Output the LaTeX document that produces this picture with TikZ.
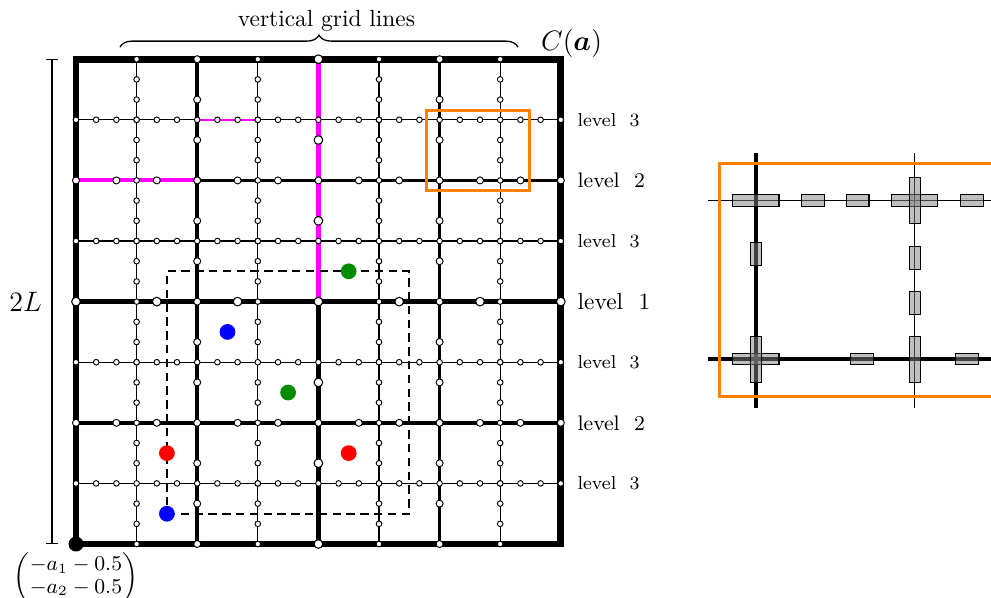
\documentclass[tikz,border=0pt]{standalone}
\usepackage{amsmath, amssymb}
\usepackage{tikz}
\usetikzlibrary{arrows.meta,positioning,decorations.pathreplacing,calc}
\definecolor{magline}{rgb}{1,0,1}
\definecolor{zoomorange}{rgb}{1,0.5,0}

\begin{document}
\begin{tikzpicture}[x=0.91cm, y=0.91cm, node distance=1cm,
        lvlthree/.style={line width=0.45pt},
        lvltwo/.style={line width=1.46pt},
        lvlone/.style={line width=1.82pt},
        border/.style={line width=2.9pt},
        dotthree/.style={draw, fill=white, line width=0.4pt},
        dottwo/.style={draw, fill=white, line width=0.4pt},
        dotone/.style={draw, fill=white, line width=0.45pt},
        patch/.style={dash pattern=on 3.6pt off 2.3pt, line width=0.8pt},
        lvl/.style={anchor=west, inner sep=0pt},
        zoombox/.style={draw=zoomorange, line width=1.27pt},
        supp/.style={draw, fill=gray, fill opacity=0.5, line width=0.45pt, inner sep=0pt},
        hshort/.style={minimum width=9.8pt, minimum height=4.8pt},
        hlong/.style={minimum width=19.7pt, minimum height=4.8pt},
        vshort/.style={minimum width=4.8pt, minimum height=9.8pt},
        vlong/.style={minimum width=4.8pt, minimum height=19.7pt}]
    \useasboundingbox (-1.254,-0.875) rectangle (15.099,8.977);
    \clip (-1.254,-0.875) rectangle (15.099,8.977);

    % grid lines, finest level first
    \foreach \c in {1,3,5,7}
        \draw[lvlthree] (\c,0) -- (\c,8) (0,\c) -- (8,\c);
    \foreach \c in {2,6}
        \draw[lvltwo] (\c,0) -- (\c,8) (0,\c) -- (8,\c);
    \draw[lvlone] (4,0) -- (4,8) (0,4) -- (8,4);

    \draw[magline, line width=1.1pt] (2,7) -- (3,7);
    \draw[magline, line width=1.64pt] (0,6) -- (2,6);
    \draw[magline, line width=2.18pt] (4,8) -- (4,4);

    \draw[border] (0,0) rectangle (8,8);
    \draw[patch] (1.5,0.5) -- (5.5,0.5) -- (5.5,4.5) -- (1.5,4.5) -- cycle;

    % grid points on each level
    \foreach \c in {1,3,5,7}
        \foreach \k in {0,...,24}
            \draw[dotthree] (\c,\k/3) circle (1.2pt) (\k/3,\c) circle (1.2pt);
    \foreach \c in {2,6}
        \foreach \k in {0,...,12}
            \draw[dottwo] (\c,2*\k/3) circle (1.5pt) (2*\k/3,\c) circle (1.5pt);
    \foreach \k in {0,...,6}
        \draw[dotone] (4,4*\k/3) circle (1.85pt) (4*\k/3,4) circle (1.85pt);

    \fill[green!55!black] (4.5,4.5) circle (3.37pt);
    \fill[blue] (2.5,3.5) circle (3.37pt);
    \fill[green!55!black] (3.5,2.5) circle (3.37pt);
    \fill[red] (1.5,1.5) circle (3.37pt);
    \fill[red] (4.5,1.5) circle (3.37pt);
    \fill[blue] (1.5,0.5) circle (3.37pt);

    \coordinate (orig) at (0,0);
    \fill (orig) circle (3.2pt);
    \node[below=0pt of orig, font=\small] (corner) {\renewcommand{\arraystretch}{0.86}$\begin{pmatrix}-a_1-0.5\\-a_2-0.5\end{pmatrix}$};

    \draw[zoombox] (5.79,5.84) rectangle (7.49,7.15);

    \node[lvl, font=\footnotesize] (lvlA) at (8.27,7) {level~ 3};
    \node[lvl, font=\small] (lvlB) at (8.27,6) {level~ 2};
    \node[lvl, font=\footnotesize] (lvlC) at (8.27,5) {level~ 3};
    \node[lvl] (lvlD) at (8.27,4) {level~ 1};
    \node[lvl, font=\footnotesize] (lvlE) at (8.27,3) {level~ 3};
    \node[lvl, font=\small] (lvlF) at (8.27,2) {level~ 2};
    \node[lvl, font=\footnotesize] (lvlG) at (8.27,1) {level~ 3};

    \node[font=\large] (cset) at (8.177,8.267) {$C(\boldsymbol{a})$};

    \coordinate (brl) at (0.726,8.2);
    \coordinate (brr) at (7.294,8.2);
    \draw[line width=0.55pt, decorate, decoration={brace, amplitude=5.1pt}] (brl) -- (brr)
        node[midway, above=3.2pt, xshift=3.2pt] (vgl) {vertical grid lines};

    \coordinate (dimlo) at (-0.396,0);
    \coordinate (dimhi) at (-0.396,8);
    \draw[line width=0.55pt, {Bar[width=5.5pt]}-{Bar[width=5.5pt]}] (dimlo) -- (dimhi)
        node[midway, left=0.7pt, font=\large] (twoL) {$2L$};

    % zoomed part of the grid
    \begin{scope}[shift={(11.22,3.05)}, scale=2.62]
        \draw[lvlthree] (1,-0.31) -- (1,1.3) (-0.3,1) -- (1.6,1);
        \draw[lvltwo] (0,-0.31) -- (0,1.3) (-0.3,0) -- (1.6,0);
        \foreach \x/\y [count=\i] in {0.36/1, 0.64/1, 1.36/1, 0.668/0, 1.332/0}
            \node[supp, hshort] (hs\i) at (\x,\y) {};
        \foreach \x/\y [count=\i] in {0/1, 1/1, 0/0}
            \node[supp, hlong] (hl\i) at (\x,\y) {};
        \foreach \x/\y [count=\i] in {0/0.661, 1/0.355, 1/0.635}
            \node[supp, vshort] (vs\i) at (\x,\y) {};
        \foreach \x/\y [count=\i] in {1/1, 0/0, 1/0}
            \node[supp, vlong] (vl\i) at (\x,\y) {};
        \draw[zoombox] (-0.232,-0.238) rectangle (1.56,1.235);
    \end{scope}
\end{tikzpicture}
\end{document}
